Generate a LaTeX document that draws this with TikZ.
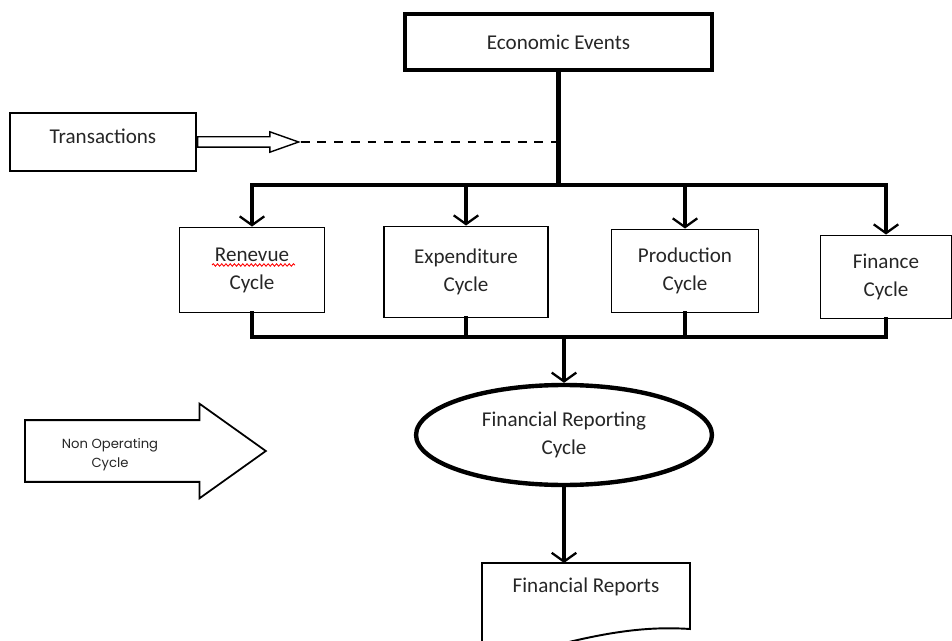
\documentclass[tikz,border=0pt]{standalone}
\usepackage{fontspec}
\setmainfont{Carlito}
\newfontfamily\geofont{Poppins}
\usetikzlibrary{shapes.geometric,
shapes.arrows,
decorations.pathmorphing,
arrows.meta}
\tikzset{
  % plain boxes of the four cycles
  cycle box/.style={draw,line width=1.1pt,align=center,inner sep=0pt},
  % the thick lines that collect and spread the flow
  bus/.style={line width=2.3pt,line cap=rect,line join=miter},
  % a line with the open barb at its end
  flow/.style={line width=2.2pt,
    -{Straight Barb[length=5pt,width=14pt,line width=1.3pt]}},
  % outlined arrows drawn as shapes
  hollow arrow/.style={draw,single arrow,fill=white,inner xsep=0pt,anchor=tail},
}

\begin{document}
\begin{tikzpicture}[x=0.02cm,y=-0.02cm,
    every node/.style={text=black!85,font=\fontsize{12pt}{16pt}\selectfont}]
            \useasboundingbox (0,0) rectangle (952,641);

            \node[draw,line width=2.3pt,minimum width=6.14cm,minimum height=1.12cm] (Econ) at (558.5,42) {Economic Events};
            \node[draw,line width=1.1pt,minimum width=3.72cm,minimum height=1.16cm,text depth=0.25cm] (Trans) at (103,142) {Transactions};

            \node[cycle box,minimum width=2.9cm,minimum height=1.7cm] (Rev) at (252,270) {Renevue\\Cycle};
            \node[cycle box,minimum width=3.28cm,minimum height=1.82cm] (Exp) at (466,272) {Expenditure\\Cycle};
            \node[cycle box,minimum width=2.94cm,minimum height=1.66cm] (Prod) at (685,271) {Production\\Cycle};
            \node[cycle box,minimum width=2.62cm,minimum height=1.66cm] (Fin) at (886,277) {Finance\\Cycle};

            \node[draw,ellipse,line width=2.5pt,inner sep=0pt,align=center,minimum width=5.92cm,minimum height=2cm] (FRC) at (564,435) {Financial Reporting\\Cycle};
            \node (FR) at (586,587) {Financial Reports};

            \node[hollow arrow,line width=0.8pt,minimum height=2.02cm,inner ysep=0.09cm,
              single arrow head extend=0.1cm,single arrow tip angle=39] (TArrow) at (Trans.east) {};
            \node[hollow arrow,line width=1pt,minimum height=4.82cm,inner ysep=0.6cm,
              single arrow head extend=0.33cm,single arrow tip angle=71] (NonOp) at (24,451) {};
            \node[font=\geofont\fontsize{7.5pt}{11pt}\selectfont,align=center] (NonOpText) at (110,455) {Non Operating\\Cycle};

            % where the two busses run
            \coordinate (top) at (0,185);
            \coordinate (bottom) at (0,337);
            \coordinate (FRtop) at (0,563);

            % spelling mark under the first cycle
            \draw[red,line width=0.5pt,decorate,decoration={snake,amplitude=0.7pt,segment length=2.4pt}]
            (212,265) -- (295,265);

            \draw[line width=1.6pt,dash pattern=on 5pt off 4.5pt] (TArrow.tip) -- (Econ.south |- TArrow.tip);

            \draw[bus] (Econ.south) -- (Econ.south |- top);
            \draw[bus] (Rev.north |- top) -- (Fin.north |- top);
            \foreach \c in {Rev,Exp,Prod,Fin}
              \draw[flow] (\c.north |- top) -- (\c.north);

            \draw[bus] (Rev.south) -- (Rev.south |- bottom) -- (Fin.south |- bottom) -- (Fin.south);
            \foreach \c in {Exp,Prod}
              \draw[bus] (\c.south) -- (\c.south |- bottom);

            \draw[flow] (FRC.north |- bottom) -- (FRC.north);
            \draw[flow] (FRC.south) -- (FRC.south |- FRtop);

            % the document outline of the reports
            \draw[line width=1.1pt] (482,660) -- (482,563) -- (690,563) -- (690,629)
            .. controls (645,626) and (600,632) .. (520,655);
        \end{tikzpicture}
\end{document}
